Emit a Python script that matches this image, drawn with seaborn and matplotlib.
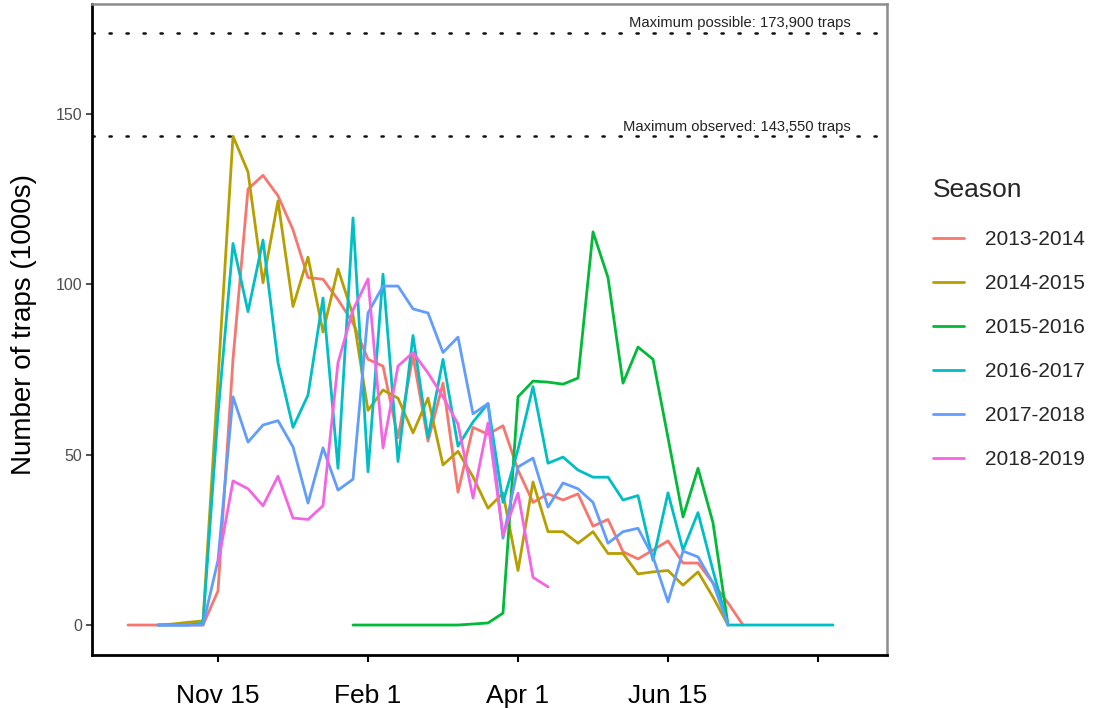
import matplotlib
matplotlib.use("Agg")
import matplotlib.pyplot as plt
import seaborn as sns
import pandas as pd

# weekly trap counts (1000s), week index on the x axis
seasons = ["2013-2014", "2014-2015", "2015-2016", "2016-2017", "2017-2018", "2018-2019"]
colors = ["#F8766D", "#B79F00", "#00BA38", "#00BFC4", "#619CFF", "#F564E3"]

start_week = {"2013-2014": 4, "2014-2015": 6, "2015-2016": 19,
              "2016-2017": 6, "2017-2018": 6, "2018-2019": 10}

traps_1314 = [0, 0, 0, 0, 0, 0, 10, 78, 128, 132, 126, 116, 102, 101.5, 95.5, 88.7,
              78, 76, 55, 79, 54, 71, 39, 58, 56, 58.5, 45.5, 36, 38.5, 36.7, 38.5,
              29, 31, 21.5, 19.4, 22, 24.7, 18.2, 18.2, 12.3, 6.5, 0]
traps_1415 = [0, 0.3, 0.8, 1.2, 72, 143.5, 133, 100.5, 124.5, 93.5, 108, 86, 104.5, 91,
              63, 69, 66.6, 56.4, 66.6, 47, 51, 43.5, 34.3, 38.7, 16, 42, 27.4, 27.4,
              24, 27.4, 21, 21, 15, 15.6, 16, 11.7, 15.6, 8.2, 0]
traps_1516 = [0, 0, 0, 0, 0, 0, 0, 0, 0.3, 0.6, 3.5, 67, 71.6, 71.3, 70.7, 72.5,
              115.4, 102, 71, 81.6, 78, 55, 31.7, 46, 30, 0]
traps_1617 = [0, 0, 0, 0.5, 62, 112, 92, 113, 77, 58, 67.5, 96, 46, 119.5, 45, 103,
              48, 85, 55, 78, 52.5, 59.6, 65, 36, 51.5, 70, 47.5, 49.3, 45.5, 43.4,
              43.4, 36.7, 38, 19, 38.8, 22, 33, 16, 0, 0, 0, 0, 0, 0, 0, 0]
traps_1718 = [0, 0, 0, 0, 19, 67, 53.7, 58.7, 60, 52.3, 35.8, 52, 39.6, 42.8, 91.6,
              99.5, 99.5, 92.8, 91.6, 80, 84.5, 62, 65, 25.5, 46.4, 49, 34.6, 41.7,
              40, 36, 24, 27.4, 28.4, 20, 6.8, 21.7, 20, 12.3, 0]
traps_1819 = [18, 42.3, 40, 35, 43.7, 31.4, 31, 35, 77, 92.5, 101.6, 52, 76, 80, 74,
              67, 59, 37.3, 59.3, 26.4, 38.7, 14, 11.2]

series = dict(zip(seasons, [traps_1314, traps_1415, traps_1516,
                            traps_1617, traps_1718, traps_1819]))

tick_weeks = [10, 20, 30, 40, 50]
tick_labels = ["Nov 15", "Feb 1", "Apr 1", "Jun 15", ""]

max_possible = 173.9
max_observed = 143.55

rows = []
for s in seasons:
    for i, v in enumerate(series[s]):
        rows.append({"week": start_week[s] + i, "traps": v, "Season": s})
df = pd.DataFrame(rows)

sns.set_theme(style="white")
plt.rcParams["font.family"] = ["Liberation Sans", "DejaVu Sans"]

fig = plt.figure(figsize=(10.95, 7.09), dpi=100)
ax = fig.add_axes([92 / 1095, 1 - 655 / 709, 795 / 1095, 651 / 709])

sns.lineplot(data=df, x="week", y="traps", hue="Season", hue_order=seasons,
             palette=colors, linewidth=2.0, estimator=None, sort=False, ax=ax)

for yv in [max_possible, max_observed]:
    ax.axhline(yv, color="#111111", lw=1.8, ls=(0, (0.9, 5.9)),
               dash_capstyle="round")
ax.text(52.2, max_possible + 0.7, "Maximum possible: 173,900 traps",
        ha="right", va="bottom", fontsize=10.6, color="#222222")
ax.text(52.2, max_observed + 0.7, "Maximum observed: 143,550 traps",
        ha="right", va="bottom", fontsize=10.6, color="#222222")

ax.set_xlim(1.6, 54.6)
ax.set_ylim(-8.8, 182.3)
ax.set_xticks(tick_weeks)
ax.set_xticklabels(tick_labels, fontsize=19, color="black")
ax.set_yticks([0, 50, 100, 150])
ax.set_yticklabels(["0", "50", "100", "150"], fontsize=11.5, color="#4d4d4d")
ax.tick_params(axis="x", bottom=True, length=5, width=1.5, color="black", pad=16)
ax.tick_params(axis="y", left=True, length=4, width=1.2, color="#333333", pad=3)

ax.set_xlabel("")
ax.set_ylabel("Number of traps (1000s)", fontsize=20, color="black")
ax.yaxis.set_label_coords(-0.085, 0.507)
ax.yaxis.label.set_va("center")

for side in ["left", "bottom"]:
    ax.spines[side].set_color("black")
    ax.spines[side].set_linewidth(2)
for side in ["top", "right"]:
    ax.spines[side].set_color("#8c8c8c")
    ax.spines[side].set_linewidth(1.8)

handles, labels = ax.get_legend_handles_labels()
ax.get_legend().remove()
leg = fig.legend(handles, labels, title="Season", loc="upper left",
                 bbox_to_anchor=(933 / 1095, 1 - 178 / 709), frameon=False,
                 fontsize=15, title_fontsize=19, borderpad=0, borderaxespad=0,
                 handlelength=1.5, handletextpad=1.0, labelspacing=1.2,
                 alignment="left")
leg._legend_box.sep = 20.5
for line in leg.get_lines():
    line.set_linewidth(2)

fig.savefig("out.png", dpi=100)
